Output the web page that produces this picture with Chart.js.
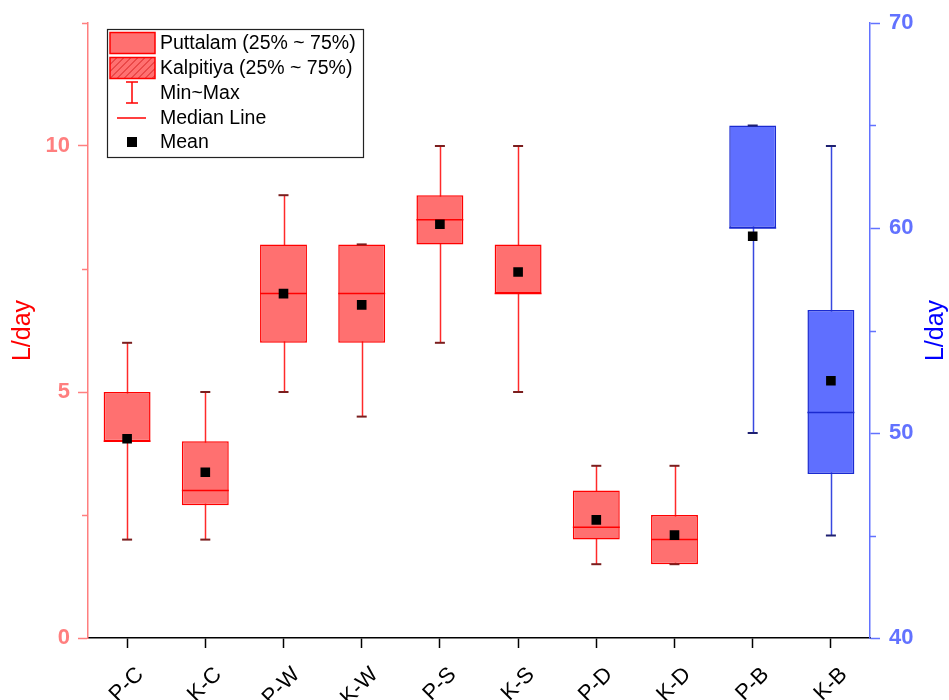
<!DOCTYPE html>
<html>
<head>
<meta charset="utf-8">
<script src="https://cdn.jsdelivr.net/npm/chart.js@4/dist/chart.umd.min.js"></script>
<style>
  html, body { margin: 0; padding: 0; background: #ffffff; }
  #wrap { width: 949px; height: 700px; }
</style>
</head>
<body>
<div id="wrap"><canvas id="c" width="949" height="700"></canvas></div>
<script>
// Daily water use per site and season (L/day)
const categories = ['P-C', 'K-C', 'P-W', 'K-W', 'P-S', 'K-S', 'P-D', 'K-D', 'P-B', 'K-B'];
const mins    = [2,    2,    5,    4.5,  6,    5,    1.5,  1.5,  50,   45];
const q1s     = [4,    2.7,  6,    6,    8,    7,    2,    1.5,  60,   48];
const medians = [4,    3,    7,    7,    8.5,  7,    2.25, 2,    60,   51];
const q3s     = [5,    4,    8,    8,    9,    8,    3,    2.5,  65,   56];
const maxs    = [6,    5,    9,    8,    10,   10,   3.5,  3.5,  65,   64];
const means   = [4.05, 3.37, 7.0,  6.77, 8.41, 7.44, 2.4,  2.09, 59.6, 52.55];
// which value axis each category is read against
const axisOf  = ['y', 'y', 'y', 'y', 'y', 'y', 'y', 'y', 'y2', 'y2'];

const leftTicks  = { min: 0,  max: 12.5, step: 5,  minor: [2.5, 7.5, 12.5] };
const rightTicks = { min: 40, max: 70,   step: 10, minor: [45, 55, 65] };

const legendLabels = ['Puttalam (25% ~ 75%)', 'Kalpitiya (25% ~ 75%)', 'Min~Max', 'Median Line', 'Mean'];

const FONT = '"Liberation Sans", Arial, Helvetica, sans-serif';
Chart.defaults.font.family = FONT;

const STYLE = {
  y:  { fill: '#FF7070', edge: '#FF0000', stem: '#FF2A2A', cap: '#7A1E1E', axis: '#FF7F7F', title: '#FF0000' },
  y2: { fill: '#5F6FFF', edge: '#1A2AD0', stem: '#3848E0', cap: '#1E2070', axis: '#6272FF', title: '#0000FF' }
};

function onAxis(id, arr) {
  return categories.map((c, i) => axisOf[i] === id ? arr[i] : null);
}

const boxParts = {
  id: 'boxParts',
  beforeDatasetsDraw(chart) {
    const ctx = chart.ctx, xs = chart.scales.x;
    ctx.save();
    ctx.lineWidth = 1.5;
    categories.forEach((c, i) => {
      const s = chart.scales[axisOf[i]];
      const px = Math.round(xs.getPixelForValue(i)) + 0.5;
      ctx.strokeStyle = STYLE[axisOf[i]].stem;
      ctx.beginPath();
      ctx.moveTo(px, s.getPixelForValue(mins[i]));
      ctx.lineTo(px, s.getPixelForValue(maxs[i]));
      ctx.stroke();
    });
    ctx.restore();
  },
  afterDatasetDraw(chart, args) {
    const ds = chart.data.datasets[args.index];
    if (ds.type !== 'bar') return;
    const ctx = chart.ctx, xs = chart.scales.x;
    const id = ds.yAxisID;
    const s = chart.scales[id];
    const bars = args.meta.data;
    ctx.save();
    categories.forEach((c, i) => {
      if (axisOf[i] !== id) return;
      const px = xs.getPixelForValue(i);
      const half = bars[i] ? bars[i].width / 2 : 23;
      // median line
      ctx.strokeStyle = STYLE[id].edge;
      ctx.lineWidth = 1.5;
      const my = s.getPixelForValue(medians[i]);
      ctx.beginPath();
      ctx.moveTo(px - half, my);
      ctx.lineTo(px + half, my);
      ctx.stroke();
      // whisker caps
      ctx.strokeStyle = STYLE[id].cap;
      ctx.lineWidth = 2;
      [mins[i], maxs[i]].forEach(v => {
        const y = s.getPixelForValue(v);
        ctx.beginPath();
        ctx.moveTo(px - 5, y);
        ctx.lineTo(px + 5, y);
        ctx.stroke();
      });
    });
    ctx.restore();
  },
  afterDraw(chart) {
    const ctx = chart.ctx, area = chart.chartArea;
    ctx.save();
    // minor ticks
    ctx.lineWidth = 1.5;
    const yl = chart.scales.y, yr = chart.scales.y2;
    ctx.strokeStyle = STYLE.y.axis;
    leftTicks.minor.forEach(v => {
      const y = Math.round(yl.getPixelForValue(v)) + 0.5;
      ctx.beginPath(); ctx.moveTo(yl.right - 6, y); ctx.lineTo(yl.right, y); ctx.stroke();
    });
    ctx.strokeStyle = STYLE.y2.axis;
    rightTicks.minor.forEach(v => {
      const y = Math.round(yr.getPixelForValue(v)) + 0.5;
      ctx.beginPath(); ctx.moveTo(yr.left, y); ctx.lineTo(yr.left + 6, y); ctx.stroke();
    });
    // right axis title, reading upward
    ctx.fillStyle = STYLE.y2.title;
    ctx.font = '25px ' + FONT;
    ctx.textAlign = 'center';
    ctx.textBaseline = 'middle';
    ctx.translate(936, (area.top + area.bottom) / 2);
    ctx.rotate(-Math.PI / 2);
    ctx.fillText('L/day', 0, 0);
    ctx.restore();

    // legend
    ctx.save();
    const lx = 107, ly = 29, lw = 256, lh = 128;
    ctx.fillStyle = '#ffffff';
    ctx.fillRect(lx, ly, lw, lh);
    ctx.strokeStyle = '#222222';
    ctx.lineWidth = 1.2;
    ctx.strokeRect(lx + 0.5, ly + 0.5, lw, lh);
    const rows = [43, 68, 93, 118, 142];
    // box swatches
    [0, 1].forEach(r => {
      const sx = 110, sy = rows[r] - 10.5, sw = 45, sh = 21;
      ctx.fillStyle = STYLE.y.fill;
      ctx.fillRect(sx, sy, sw, sh);
      if (r === 1) {
        ctx.save();
        ctx.beginPath(); ctx.rect(sx, sy, sw, sh); ctx.clip();
        ctx.strokeStyle = '#D01818';
        ctx.lineWidth = 0.9;
        for (let k = -sh; k < sw + sh; k += 7) {
          ctx.beginPath();
          ctx.moveTo(sx + k, sy + sh);
          ctx.lineTo(sx + k + sh, sy);
          ctx.stroke();
        }
        ctx.restore();
      }
      ctx.strokeStyle = STYLE.y.edge;
      ctx.lineWidth = 1.5;
      ctx.strokeRect(sx, sy, sw, sh);
    });
    // min~max symbol
    ctx.strokeStyle = STYLE.y.edge;
    ctx.lineWidth = 1.5;
    ctx.beginPath();
    ctx.moveTo(132, rows[2] - 11); ctx.lineTo(132, rows[2] + 10);
    ctx.moveTo(126, rows[2] - 11); ctx.lineTo(138, rows[2] - 11);
    ctx.moveTo(126, rows[2] + 10); ctx.lineTo(138, rows[2] + 10);
    ctx.stroke();
    // median symbol
    ctx.beginPath();
    ctx.moveTo(117, rows[3]); ctx.lineTo(146, rows[3]);
    ctx.stroke();
    // mean symbol
    ctx.fillStyle = '#000000';
    ctx.fillRect(127, rows[4] - 5, 10, 10);
    // labels
    ctx.fillStyle = '#000000';
    ctx.font = '19.5px ' + FONT;
    ctx.textAlign = 'left';
    ctx.textBaseline = 'middle';
    legendLabels.forEach((t, r) => ctx.fillText(t, 160, rows[r] + 1));
    ctx.restore();
  }
};

const barCommon = {
  type: 'bar',
  borderWidth: 1.5,
  borderSkipped: false,
  grouped: false,
  barPercentage: 0.6,
  categoryPercentage: 1,
  order: 1
};

const meanCommon = {
  type: 'line',
  showLine: false,
  pointStyle: 'rect',
  pointRadius: 6.8,
  pointHoverRadius: 6.8,
  pointBorderWidth: 0,
  pointBackgroundColor: '#000000',
  borderColor: '#000000',
  order: 0
};

new Chart(document.getElementById('c'), {
  type: 'bar',
  data: {
    labels: categories,
    datasets: [
      Object.assign({}, barCommon, {
        label: 'Puttalam / Kalpitiya',
        yAxisID: 'y',
        data: categories.map((c, i) => axisOf[i] === 'y' ? [q1s[i], q3s[i]] : null),
        backgroundColor: STYLE.y.fill,
        borderColor: STYLE.y.edge
      }),
      Object.assign({}, barCommon, {
        label: 'B',
        yAxisID: 'y2',
        data: categories.map((c, i) => axisOf[i] === 'y2' ? [q1s[i], q3s[i]] : null),
        backgroundColor: STYLE.y2.fill,
        borderColor: STYLE.y2.edge
      }),
      Object.assign({}, meanCommon, { label: 'Mean', yAxisID: 'y', data: onAxis('y', means) }),
      Object.assign({}, meanCommon, { label: 'Mean ', yAxisID: 'y2', data: onAxis('y2', means) })
    ]
  },
  options: {
    responsive: false,
    devicePixelRatio: 1,
    animation: false,
    layout: { padding: { top: 23, left: 0, right: 0, bottom: 0 } },
    plugins: { legend: { display: false }, tooltip: { enabled: false } },
    scales: {
      x: {
        type: 'category',
        offset: true,
        grid: { display: true, drawOnChartArea: false, offset: false, tickLength: 10, color: '#000000', tickWidth: 1.5 },
        border: { display: true, color: '#000000', width: 1.5 },
        ticks: { color: '#000000', font: { size: 22 }, maxRotation: 45, minRotation: 45, padding: 14, labelOffset: 13, autoSkip: false },
        afterFit(s) { s.height = 62; }
      },
      y: {
        position: 'left',
        min: leftTicks.min,
        max: leftTicks.max,
        grid: { drawOnChartArea: false, tickLength: 10, color: STYLE.y.axis, tickWidth: 1.5 },
        border: { display: true, color: STYLE.y.axis, width: 1.5 },
        ticks: { stepSize: leftTicks.step, includeBounds: false, color: STYLE.y.axis, font: { size: 22, weight: 'bold' }, padding: 8 },
        title: { display: true, text: 'L/day', color: STYLE.y.title, font: { size: 25 }, padding: { top: 8, bottom: 0 } },
        afterFit(s) { s.width = 88; }
      },
      y2: {
        position: 'right',
        min: rightTicks.min,
        max: rightTicks.max,
        grid: { drawOnChartArea: false, tickLength: 10, color: STYLE.y2.axis, tickWidth: 1.5 },
        border: { display: true, color: STYLE.y2.axis, width: 1.5 },
        ticks: { stepSize: rightTicks.step, color: STYLE.y2.axis, font: { size: 22, weight: 'bold' }, padding: 9 },
        afterFit(s) { s.width = 79; }
      }
    }
  },
  plugins: [boxParts]
});
</script>
</body>
</html>
